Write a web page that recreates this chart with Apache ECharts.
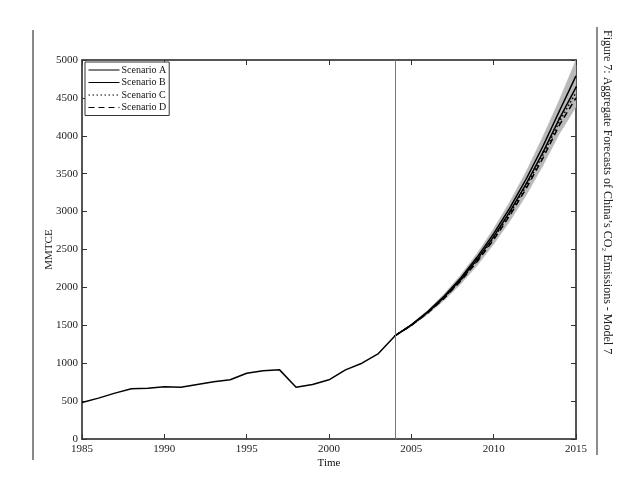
<!DOCTYPE html>
<html>
<head>
<meta charset="utf-8">
<script src="https://cdn.jsdelivr.net/npm/echarts@6/dist/echarts.min.js"></script>
<style>html,body{margin:0;padding:0;background:#fff}#c{width:640px;height:502px}</style>
</head>
<body>
<div id="c"></div>
<script>
var histYears = [1985,1986,1987,1988,1989,1990,1991,1992,1993,1994,1995,1996,1997,1998,1999,2000,2001,2002,2003,2004];
var histValues = [482,539,605,662,669,689,682,719,754,781,868,899,912,684,719,781,912,1000,1127,1360];
var fcYears = [2004,2005,2006,2007,2008,2009,2010,2011,2012,2013,2014,2015];
var scenarioA = [1360,1505,1680,1885,2125,2400,2710,3055,3440,3865,4330,4790];
var scenarioB = [1360,1503,1672,1872,2105,2370,2670,3005,3375,3785,4230,4640];
var scenarioC = [1360,1502,1668,1865,2095,2355,2650,2980,3345,3750,4190,4570];
var scenarioD = [1360,1500,1664,1858,2085,2340,2630,2955,3315,3710,4145,4500];
var bandUpper = [1360,1515,1700,1915,2165,2450,2775,3135,3540,3995,4480,5000];
var bandLower = [1360,1490,1645,1830,2045,2290,2570,2880,3225,3610,4030,4380];
var xTicks = {min:1985, max:2015, interval:5};
var yTicks = {min:0, max:5000, interval:500};
var splitYear = 2004;

function pairs(xs, ys){ return xs.map(function(x,i){return [x, ys[i]];}); }

var serif = '"Liberation Serif","DejaVu Serif",serif';
var axisColor = '#555';
var chart = echarts.init(document.getElementById('c'));
var lineW = 1.5;
var noSym = {color:'rgba(0,0,0,0)', borderWidth:0};

chart.setOption({
  animation:false,
  backgroundColor:'#fff',
  grid:{left:82, right:64, top:60, bottom:63},
  xAxis:[{
    type:'value', min:xTicks.min, max:xTicks.max, interval:xTicks.interval,
    name:'Time', nameLocation:'middle', nameGap:19, nameMoveOverlap:false,
    nameTextStyle:{fontFamily:serif, fontSize:11, color:'#111'},
    axisLine:{show:true, onZero:false, lineStyle:{color:axisColor, width:2}},
    axisTick:{show:true, inside:true, length:5, lineStyle:{color:'#333', width:1}},
    axisLabel:{fontFamily:serif, fontSize:11, color:'#222', margin:5, formatter:function(v){return String(v);}},
    splitLine:{show:false}
  },{
    type:'value', position:'top', min:xTicks.min, max:xTicks.max, interval:xTicks.interval,
    axisLine:{show:true, onZero:false, lineStyle:{color:axisColor, width:2}},
    axisTick:{show:true, inside:true, length:5, lineStyle:{color:'#333', width:1}},
    axisLabel:{show:false}, splitLine:{show:false}
  }],
  yAxis:[{
    type:'value', min:yTicks.min, max:yTicks.max, interval:yTicks.interval,
    name:'MMTCE', nameLocation:'middle', nameGap:27, nameMoveOverlap:false,
    nameTextStyle:{fontFamily:serif, fontSize:11, color:'#111'},
    axisLine:{show:true, onZero:false, lineStyle:{color:axisColor, width:2}},
    axisTick:{show:true, inside:true, length:5, lineStyle:{color:'#333', width:1}},
    axisLabel:{fontFamily:serif, fontSize:11, color:'#222', margin:4, formatter:function(v){return String(v);}},
    splitLine:{show:false}
  },{
    type:'value', position:'right', min:yTicks.min, max:yTicks.max, interval:yTicks.interval,
    axisLine:{show:true, onZero:false, lineStyle:{color:axisColor, width:2}},
    axisTick:{show:true, inside:true, length:5, lineStyle:{color:'#333', width:1}},
    axisLabel:{show:false}, splitLine:{show:false}
  }],
  legend:{
    orient:'vertical', left:85, top:62,
    data:[
      {name:'Scenario A', itemStyle:noSym},
      {name:'Scenario B', itemStyle:noSym},
      {name:'Scenario C', itemStyle:noSym},
      {name:'Scenario D', itemStyle:noSym}
    ],
    backgroundColor:'#fff', borderColor:'#333', borderWidth:1,
    padding:[3,3,3,3], itemGap:2.5, itemWidth:31, itemHeight:10,
    lineStyle:{width:1, color:'#000'},
    textStyle:{fontFamily:serif, fontSize:10, color:'#111', padding:[0,0,0,-3]},
    selectedMode:false
  },
  graphic:[
    {type:'line', shape:{x1:33,y1:30,x2:33,y2:460}, style:{stroke:'#888', lineWidth:2}, silent:true},
    {type:'line', shape:{x1:597,y1:27,x2:597,y2:455}, style:{stroke:'#666', lineWidth:1.5}, silent:true},
    {type:'text', x:601, y:30, rotation:-Math.PI/2,
     style:{text:'Figure 7: Aggregate Forecasts of China\u2019s CO\u2082 Emissions - Model 7',
            font:'12px '+serif, fill:'#222', textAlign:'left', textVerticalAlign:'bottom'}, silent:true}
  ],
  series:[
    {
      type:'custom', name:'band', silent:true, z:1, clip:true,
      data:[0],
      renderItem:function(params, api){
        if(params.dataIndex !== 0) return;
        var pts = [];
        for(var i=0;i<fcYears.length;i++) pts.push(api.coord([fcYears[i], bandUpper[i]]));
        for(var j=fcYears.length-1;j>=0;j--) pts.push(api.coord([fcYears[j], bandLower[j]]));
        return {type:'polygon', shape:{points:pts}, style:{fill:'#b9b9b9', stroke:'#b9b9b9', lineWidth:0.5}};
      }
    },
    {
      type:'line', name:'history', data:pairs(histYears, histValues), symbol:'none', z:3,
      lineStyle:{color:'#000', width:lineW},
      markLine:{silent:true, symbol:'none', label:{show:false},
        lineStyle:{color:'#777', width:1, type:'solid'},
        data:[{xAxis:splitYear}]}
    },
    {type:'line', name:'Scenario A', data:pairs(fcYears, scenarioA), symbol:'none', z:3,
      itemStyle:{color:'#000'}, lineStyle:{color:'#000', width:lineW, type:'solid'}},
    {type:'line', name:'Scenario B', data:pairs(fcYears, scenarioB), symbol:'circle', symbolSize:2, showSymbol:true, z:3,
      itemStyle:{color:'#000'}, lineStyle:{color:'#000', width:lineW, type:'solid'}},
    {type:'line', name:'Scenario C', data:pairs(fcYears, scenarioC), symbol:'none', z:3,
      itemStyle:{color:'#000'}, lineStyle:{color:'#000', width:lineW, type:[1.5,2.5]}},
    {type:'line', name:'Scenario D', data:pairs(fcYears, scenarioD), symbol:'none', z:3,
      itemStyle:{color:'#000'}, lineStyle:{color:'#000', width:lineW, type:[6,4]}}
  ]
});
</script>
</body>
</html>
